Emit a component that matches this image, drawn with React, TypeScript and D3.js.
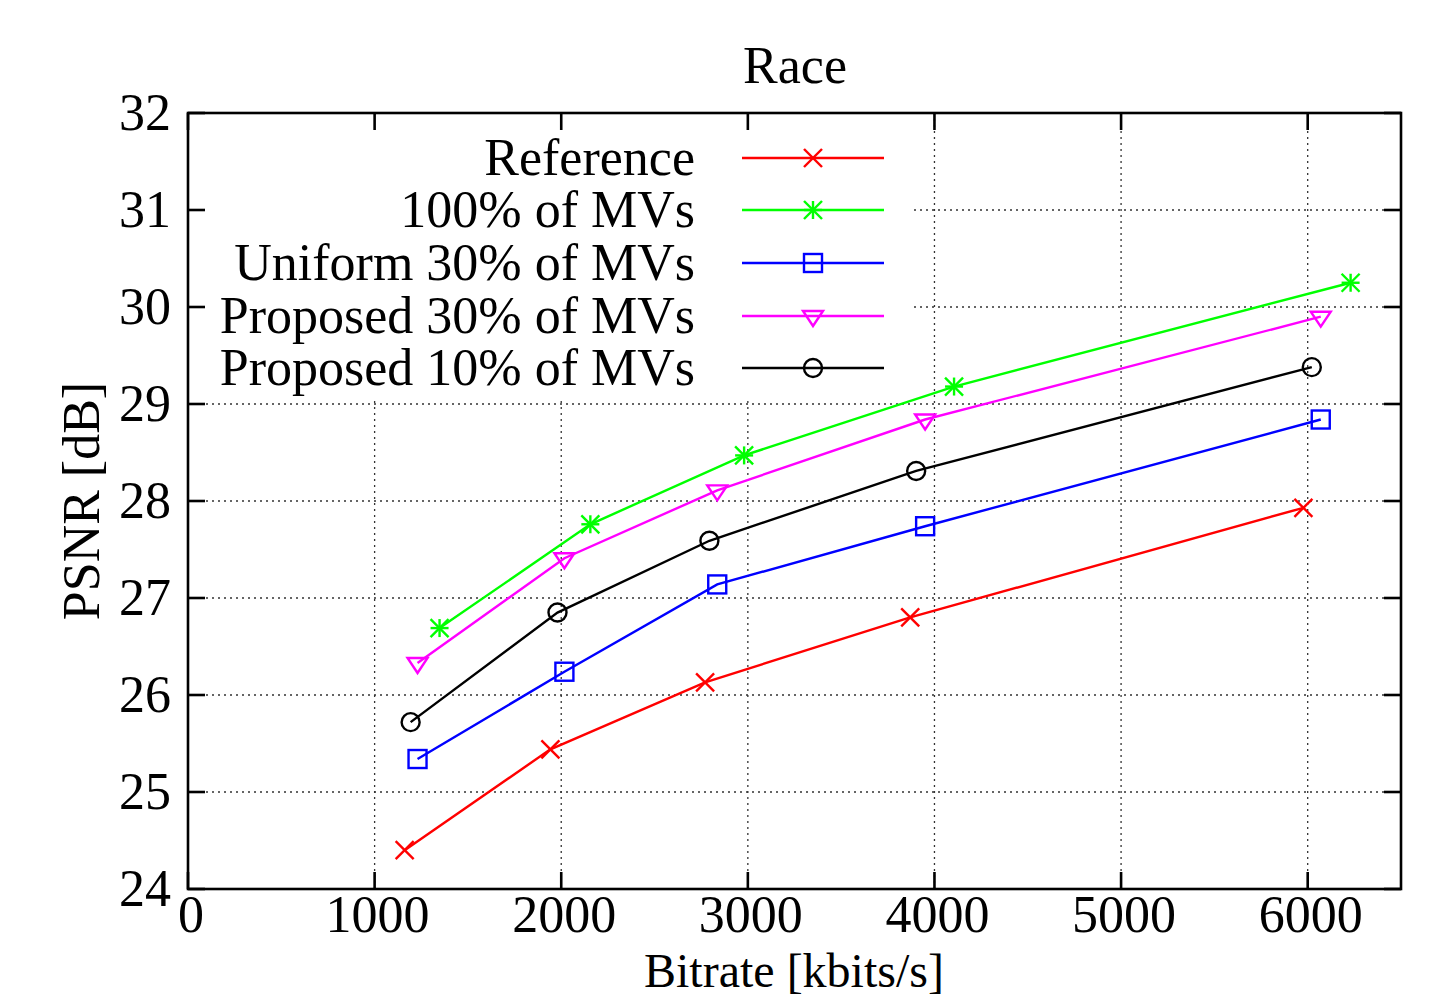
import React from "react";
import * as d3 from "d3";

const seriesNames = [
  "Reference",
  "100% of MVs",
  "Uniform 30% of MVs",
  "Proposed 30% of MVs",
  "Proposed 10% of MVs",
];
const seriesColors = ["#ff0000", "#00ff00", "#0000ff", "#ff00ff", "#000000"];
const seriesMarkers = ["x", "star", "square", "triangle", "circle"];

const refBitrate = [1161, 1942, 2771, 3870, 5977];
const refPsnr = [24.4, 25.44, 26.13, 26.8, 27.93];
const allBitrate = [1348, 2156, 2980, 4105, 6230];
const allPsnr = [26.69, 27.76, 28.47, 29.18, 30.25];
const uni30Bitrate = [1230, 2017, 2836, 3950, 6070];
const uni30Psnr = [25.34, 26.24, 27.14, 27.74, 28.84];
const prop30Bitrate = [1230, 2017, 2836, 3950, 6070];
const prop30Psnr = [26.33, 27.41, 28.11, 28.84, 29.9];
const prop10Bitrate = [1193, 1980, 2794, 3902, 6022];
const prop10Psnr = [25.72, 26.85, 27.59, 28.31, 29.38];

const xTicks = [0, 1000, 2000, 3000, 4000, 5000, 6000];
const yTicks = [24, 25, 26, 27, 28, 29, 30, 31, 32];

const seriesX = [refBitrate, allBitrate, uni30Bitrate, prop30Bitrate, prop10Bitrate];
const seriesY = [refPsnr, allPsnr, uni30Psnr, prop30Psnr, prop10Psnr];

const W = 1433;
const H = 997;
const L = 188;
const R = 1401;
const T = 113;
const B = 889;
const FONT = "'Liberation Serif', 'Times New Roman', serif";
const FS = 52;

function Marker({ type, x, y, color }: { type: string; x: number; y: number; color: string }) {
  const s = 9;
  const sw = 2.4;
  if (type === "x") {
    return (
      <g stroke={color} strokeWidth={sw}>
        <line x1={x - s} y1={y - s} x2={x + s} y2={y + s} />
        <line x1={x - s} y1={y + s} x2={x + s} y2={y - s} />
      </g>
    );
  }
  if (type === "star") {
    return (
      <g stroke={color} strokeWidth={sw}>
        <line x1={x - s} y1={y - s} x2={x + s} y2={y + s} />
        <line x1={x - s} y1={y + s} x2={x + s} y2={y - s} />
        <line x1={x} y1={y - s} x2={x} y2={y + s} />
        <line x1={x - s} y1={y} x2={x + s} y2={y} />
      </g>
    );
  }
  if (type === "square") {
    return <rect x={x - s} y={y - s} width={2 * s} height={2 * s} fill="none" stroke={color} strokeWidth={sw} />;
  }
  if (type === "triangle") {
    const h = 15;
    return (
      <polygon
        points={`${x - 10},${y - h / 3} ${x + 10},${y - h / 3} ${x},${y + (2 * h) / 3}`}
        fill="none"
        stroke={color}
        strokeWidth={sw}
      />
    );
  }
  return <circle cx={x} cy={y} r={s} fill="none" stroke={color} strokeWidth={sw} />;
}

export default function App() {
  const xScale = d3.scaleLinear().domain([0, 6500]).range([L, R]);
  const yScale = d3.scaleLinear().domain([24, 32]).range([B, T]);
  const line = d3
    .line<[number, number]>()
    .x((d) => xScale(d[0]))
    .y((d) => yScale(d[1]));

  const legendRows = [158, 210, 263, 316, 368];

  return (
    <svg width={W} height={H} style={{ position: "absolute", left: 0, top: 0, background: "#fff" }}>
      <rect x={0} y={0} width={W} height={H} fill="#fff" />
      {/* grid */}
      <g stroke="#333" strokeWidth={1.3} strokeDasharray="2,4">
        {xTicks.slice(1).map((t) => (
          <line key={"gx" + t} x1={xScale(t)} x2={xScale(t)} y1={T} y2={B} />
        ))}
        {yTicks.slice(1, -1).map((t) => (
          <line key={"gy" + t} x1={L} x2={R} y1={yScale(t)} y2={yScale(t)} />
        ))}
      </g>
      {/* opaque key box */}
      <rect x={L + 2} y={T + 2} width={910 - L} height={396 - T} fill="#fff" />
      {/* ticks */}
      <g stroke="#000" strokeWidth={2.6}>
        {xTicks.map((t) => (
          <g key={"tx" + t}>
            <line x1={xScale(t)} x2={xScale(t)} y1={B} y2={B - 17} />
            <line x1={xScale(t)} x2={xScale(t)} y1={T} y2={T + 17} />
          </g>
        ))}
        {yTicks.map((t) => (
          <g key={"ty" + t}>
            <line x1={L} x2={L + 17} y1={yScale(t)} y2={yScale(t)} />
            <line x1={R} x2={R - 17} y1={yScale(t)} y2={yScale(t)} />
          </g>
        ))}
      </g>
      {/* series */}
      {seriesNames.map((name, i) => {
        const pts: [number, number][] = seriesX[i].map((v, j) => [v, seriesY[i][j]]);
        return (
          <g key={name}>
            <path d={line(pts) || ""} fill="none" stroke={seriesColors[i]} strokeWidth={2.4} />
            {pts.map((p, j) => (
              <Marker key={j} type={seriesMarkers[i]} x={xScale(p[0])} y={yScale(p[1])} color={seriesColors[i]} />
            ))}
          </g>
        );
      })}
      {/* frame */}
      <rect x={L} y={T} width={R - L} height={B - T} fill="none" stroke="#000" strokeWidth={2.6} />
      {/* tick labels */}
      <g fontFamily={FONT} fontSize={FS} fill="#000">
        {xTicks.map((t) => (
          <text key={"lx" + t} x={xScale(t) + 3} y={932} textAnchor="middle">
            {t}
          </text>
        ))}
        {yTicks.map((t) => (
          <text key={"ly" + t} x={171} y={yScale(t) + 17} textAnchor="end">
            {t}
          </text>
        ))}
        <text x={795} y={83} textAnchor="middle">
          Race
        </text>
        <text x={794} y={986.5} textAnchor="middle" fontSize={48}>
          Bitrate [kbits/s]
        </text>
        <text transform="translate(99,501) rotate(-90)" textAnchor="middle">
          PSNR [dB]
        </text>
      </g>
      {/* legend */}
      {seriesNames.map((name, i) => (
        <g key={"lg" + name}>
          <text x={695} y={legendRows[i] + 17} textAnchor="end" fontFamily={FONT} fontSize={FS} fill="#000">
            {name}
          </text>
          <line x1={742} x2={884} y1={legendRows[i]} y2={legendRows[i]} stroke={seriesColors[i]} strokeWidth={2.4} />
          <Marker type={seriesMarkers[i]} x={813} y={legendRows[i]} color={seriesColors[i]} />
        </g>
      ))}
    </svg>
  );
}
